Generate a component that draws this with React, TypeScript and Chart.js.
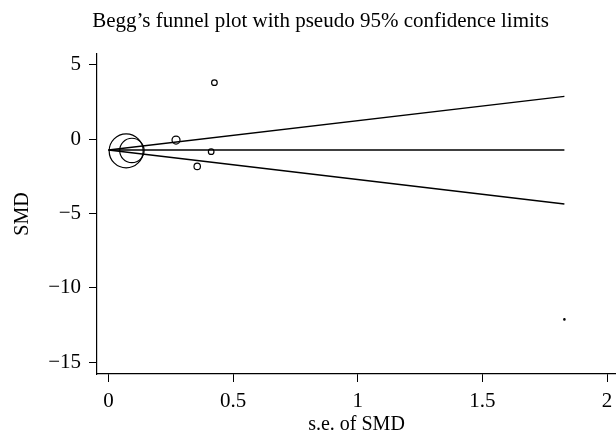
import React, { useEffect, useRef } from "react";
import { Chart, registerables } from "chart.js";

Chart.register(...registerables);

// Study-level data (s.e. of SMD vs SMD)
const seValues = [0.071, 0.094, 0.271, 0.425, 0.412, 0.356, 1.829];
const smdValues = [-0.8, -0.77, -0.07, 3.79, -0.85, -1.84, -12.13];
const markerRadius = [17, 12.2, 4, 2.8, 2.8, 3.2, 0.7];

// Funnel (pseudo 95% limits) endpoints
const funnelSE = [0, 1.829];
const pooledLine = [-0.74, -0.74];
const upperLimit = [-0.74, 2.87];
const lowerLimit = [-0.74, -4.37];

const xTicks = [0, 0.5, 1, 1.5, 2];
const yTicks = [-15, -10, -5, 0, 5];

const TITLE = "Begg\u2019s funnel plot with pseudo 95% confidence limits";
const FONT = "'Liberation Serif', 'Times New Roman', serif";

const fmt = (v: number) => (v < 0 ? "\u2212" + Math.abs(v) : String(v));

const titlePlugin = {
  id: "customTitle",
  afterDraw(chart: any) {
    const ctx = chart.ctx;
    ctx.save();
    ctx.fillStyle = "#000";
    ctx.font = `21px ${FONT}`;
    ctx.textAlign = "center";
    ctx.textBaseline = "middle";
    ctx.fillText(TITLE, 320.5, 21);
    ctx.restore();
  },
};

export default function App() {
  const ref = useRef<HTMLCanvasElement>(null);
  useEffect(() => {
    if (!ref.current) return;
    const line = (ys: number[]) => ({
      type: "line" as const,
      data: funnelSE.map((x, i) => ({ x, y: ys[i] })),
      borderColor: "#000",
      borderWidth: 1.3,
      pointRadius: 0,
      fill: false,
      tension: 0,
    });
    const chart = new Chart(ref.current, {
      type: "scatter",
      data: {
        datasets: [
          {
            type: "scatter",
            data: seValues.map((x, i) => ({ x, y: smdValues[i] })),
            pointRadius: markerRadius,
            pointStyle: "circle",
            borderColor: "#000",
            backgroundColor: "rgba(0,0,0,0)",
            borderWidth: 1.2,
          } as any,
          line(upperLimit),
          line(pooledLine),
          line(lowerLimit),
        ],
      },
      plugins: [titlePlugin],
      options: {
        animation: false,
        responsive: false,
        maintainAspectRatio: false,
        layout: { autoPadding: false, padding: { top: 54, right: 0, bottom: 0, left: 0 } },
        plugins: {
          legend: { display: false },
          tooltip: { enabled: false },
          title: { display: false },
        },
        scales: {
          x: {
            type: "linear",
            min: -0.046,
            max: 2.036,
            afterBuildTicks: (s: any) => {
              s.ticks = xTicks.map((v) => ({ value: v }));
            },
            afterFit: (s: any) => {
              s.height = 66;
              s.paddingLeft = 0;
              s.paddingRight = 0;
            },
            ticks: {
              color: "#000",
              font: { family: FONT, size: 21 },
              padding: 7,
              maxRotation: 0,
              callback: (v: any) => fmt(Number(v)),
            },
            grid: {
              drawOnChartArea: false,
              drawTicks: true,
              tickLength: 8,
              tickColor: "#000",
              tickWidth: 1,
            },
            border: { display: true, color: "#000", width: 1.2 },
            title: {
              display: true,
              text: "s.e. of SMD",
              color: "#000",
              font: { family: FONT, size: 20 },
              padding: { top: 0, bottom: 3 },
            },
          },
          y: {
            type: "linear",
            min: -15.8,
            max: 5.716,
            afterBuildTicks: (s: any) => {
              s.ticks = yTicks.map((v) => ({ value: v }));
            },
            afterFit: (s: any) => {
              s.width = 97;
              s.paddingTop = 0;
              s.paddingBottom = 0;
            },
            ticks: {
              color: "#000",
              font: { family: FONT, size: 21 },
              padding: 8,
              callback: (v: any) => fmt(Number(v)),
            },
            grid: {
              drawOnChartArea: false,
              drawTicks: true,
              tickLength: 8,
              tickColor: "#000",
              tickWidth: 1,
            },
            border: { display: true, color: "#000", width: 1.2 },
            title: {
              display: true,
              text: "SMD",
              color: "#000",
              font: { family: FONT, size: 20 },
              padding: { top: 11, bottom: 0 },
            },
          },
        },
      },
    });
    return () => chart.destroy();
  }, []);
  return (
    <div style={{ position: "absolute", left: 0, top: 0, width: 616, height: 440, background: "#fff" }}>
      <canvas ref={ref} width={616} height={440} style={{ width: 616, height: 440 }} />
    </div>
  );
}
